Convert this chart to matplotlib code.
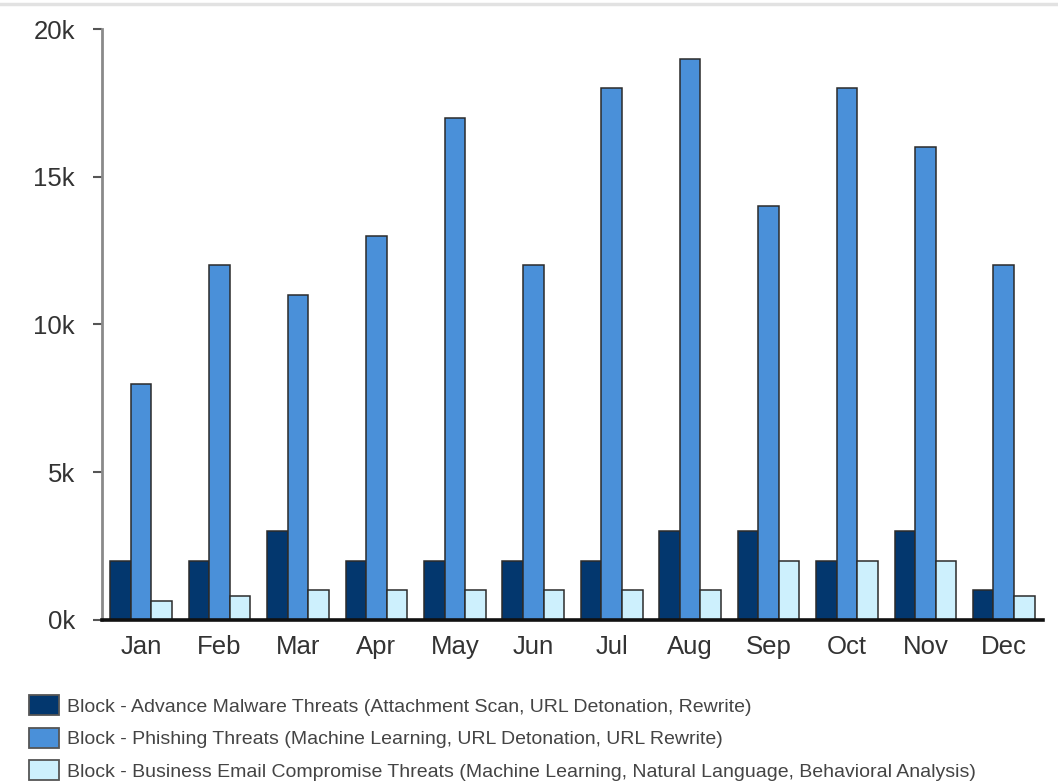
import matplotlib
matplotlib.use("Agg")
import matplotlib.pyplot as plt
from matplotlib.patches import Patch
from matplotlib.lines import Line2D
import numpy as np

months = ["Jan", "Feb", "Mar", "Apr", "May", "Jun",
          "Jul", "Aug", "Sep", "Oct", "Nov", "Dec"]
malware = [2000, 2000, 3000, 2000, 2000, 2000, 2000, 3000, 3000, 2000, 3000, 1000]
phishing = [8000, 12000, 11000, 13000, 17000, 12000, 18000, 19000, 14000, 18000, 16000, 12000]
bec = [650, 800, 1000, 1000, 1000, 1000, 1000, 1000, 2000, 2000, 2000, 800]
series_labels = [
    "Block - Advance Malware Threats (Attachment Scan, URL Detonation, Rewrite)",
    "Block - Phishing Threats (Machine Learning, URL Detonation, URL Rewrite)",
    "Block - Business Email Compromise Threats (Machine Learning, Natural Language, Behavioral Analysis)",
]
yticks = [0, 5000, 10000, 15000, 20000]
ytick_labels = ["0k", "5k", "10k", "15k", "20k"]

colors = ["#03376e", "#4a90d9", "#cdf0fd"]
edge = "#2b2b2b"

plt.rcParams["font.family"] = ["Liberation Sans", "DejaVu Sans"]

fig = plt.figure(figsize=(10.58, 7.82), dpi=100)
ax = fig.add_axes([0.0964, 0.2072, 0.8894, 0.7557])

x = np.arange(len(months))
w = 0.262
for i, (vals, c) in enumerate(zip([malware, phishing, bec], colors)):
    ax.bar(x + (i - 1) * w, vals, width=w, color=c, edgecolor=edge,
           linewidth=1.1, zorder=3)

ax.set_xlim(-0.5, 11.5)
ax.set_ylim(0, 20000)
ax.set_yticks(yticks)
ax.set_yticklabels(ytick_labels)
ax.set_xticks(x)
ax.set_xticklabels(months)

for s in ["top", "right"]:
    ax.spines[s].set_visible(False)
ax.spines["left"].set_color("#8a8a8a")
ax.spines["left"].set_linewidth(2.0)
ax.spines["bottom"].set_color("#111111")
ax.spines["bottom"].set_linewidth(2.6)
ax.spines["bottom"].set_zorder(4)

ax.tick_params(axis="y", length=6.5, width=1.5, color="#555555",
               labelsize=18.5, labelcolor="#333333", pad=13)
ax.tick_params(axis="x", length=0, labelsize=18.5, labelcolor="#333333", pad=11)

# thin separator along the top edge of the figure
fig.add_artist(Line2D([0, 1], [0.9949, 0.9949], transform=fig.transFigure,
                      color="#e2e2e2", linewidth=2.5))

handles = [Patch(facecolor=c, edgecolor="#555555", linewidth=1.3) for c in colors]
fig.legend(handles, series_labels, loc="upper left",
           bbox_to_anchor=(29 / 1058, 1 - 695 / 782),
           frameon=False, borderpad=0, borderaxespad=0,
           handlelength=1.55, handleheight=1.2, handletextpad=0.4,
           labelspacing=0.62,
           prop={"family": ["Liberation Sans Narrow", "Liberation Sans", "DejaVu Sans"],
                 "size": 14},
           labelcolor="#444444")

fig.savefig("out.png", dpi=100, facecolor="white")
